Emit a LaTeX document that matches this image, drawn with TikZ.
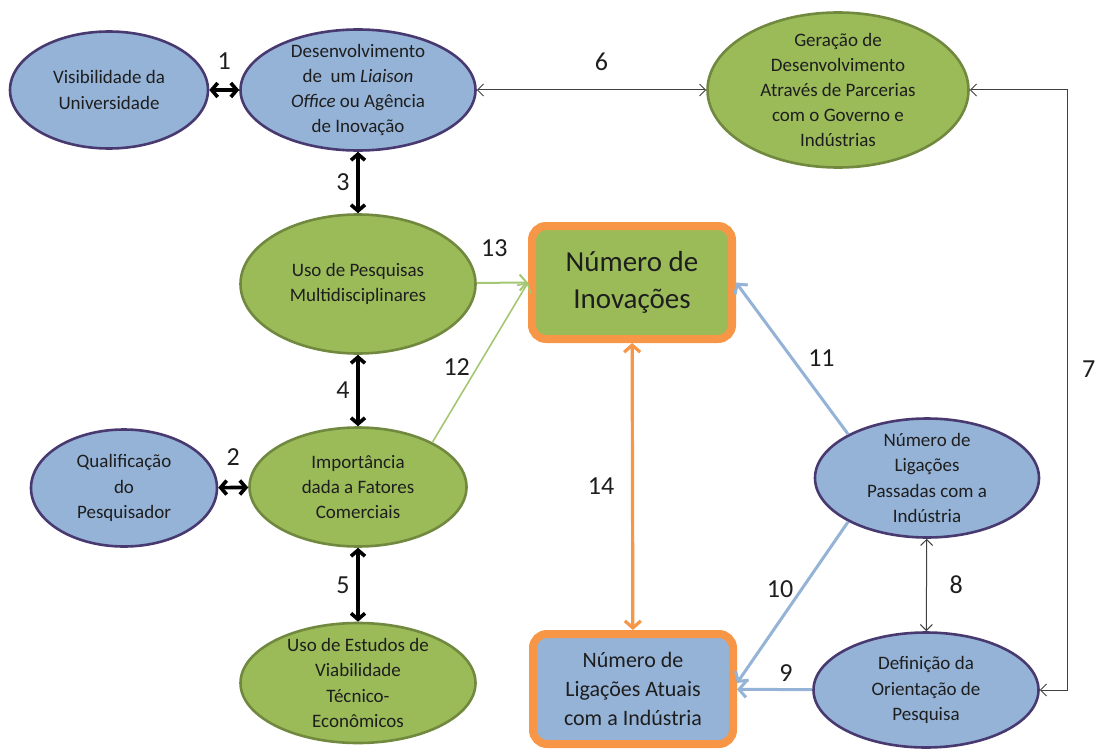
\documentclass[tikz,border=0pt]{standalone}
\usepackage{fontspec}
\setmainfont{Carlito}
\usetikzlibrary{shapes, arrows.meta, positioning}
\definecolor{bluefill}{RGB}{149,179,215}
\definecolor{blueline}{RGB}{72,58,112}
\definecolor{greenfill}{RGB}{155,187,89}
\definecolor{greenline}{RGB}{113,137,63}
\definecolor{orangeline}{RGB}{247,150,70}
\definecolor{bluearr}{RGB}{149,179,215}
\definecolor{greenarr}{RGB}{165,198,115}
\definecolor{darktext}{RGB}{30,30,30}
\newcommand{\ellfont}{\fontsize{9.5}{12.6}\selectfont}
\newcommand{\inovfont}{\fontsize{14.5}{18.5}\selectfont}
\newcommand{\ligfont}{\fontsize{11}{14.3}\selectfont}
\newcommand{\numfont}{\fontsize{13}{15}\selectfont}
\tikzstyle{blueell} = [draw=blueline, fill=bluefill, ellipse, line width=1.3pt,
    inner xsep=-6pt, inner ysep=-14pt, align=center, font=\ellfont, text=darktext]
\tikzstyle{greenell} = [blueell, draw=greenline, fill=greenfill]
\tikzstyle{orangebox} = [draw=orangeline, rectangle, rounded corners=7pt,
    line width=4pt, align=center, text=darktext, minimum width=100pt]
\tikzstyle{num} = [font=\numfont, text=darktext]
\tikzstyle{thickarr} = [line width=1.8pt,
    {Straight Barb[length=3pt,width=7pt]}-{Straight Barb[length=3pt,width=7pt]}]
\tikzstyle{thinarr} = [line width=0.5pt, draw=black!75,
    {Straight Barb[length=3pt,width=6pt]}-{Straight Barb[length=3pt,width=6pt]}]
\tikzstyle{bluearrow} = [line width=1.5pt, draw=bluearr, -{Straight Barb[length=3.5pt,width=8pt]}]
\tikzstyle{greenarrow} = [line width=1pt, draw=greenarr, -{Straight Barb[length=3.5pt,width=8pt]}]
\tikzstyle{orangearrow} = [line width=1.6pt, draw=orangeline,
    {Straight Barb[length=3.5pt,width=8pt]}-{Straight Barb[length=3.5pt,width=8pt]}]

\begin{document}
\begin{tikzpicture}[x=0.5pt, y=-0.5pt]
    \useasboundingbox (0,0) rectangle (1097,749);
    % left column
    \node [blueell, minimum width=99pt, minimum height=58.5pt] (visib) at (109,90) {Visibilidade da\\Universidade};
    \node [blueell, minimum width=117.5pt, minimum height=60.5pt] (desenv) at (358,90)
        {Desenvolvimento\\de\ \ um \textit{Liaison}\\\textit{Office} ou Agência\\de Inovação};
    \node [greenell, minimum width=130.5pt, minimum height=77.5pt] (geracao) at (838,90)
        {Geração de\\Desenvolvimento\\Através de Parcerias\\com o Governo e\\Indústrias};
    \node [greenell, minimum width=117.5pt, minimum height=69.5pt] (pesq) at (358,284) {Uso de Pesquisas\\Multidisciplinares};
    \node [blueell, minimum width=93pt, minimum height=58.5pt] (qualif) at (124,488) {Qualificação\\do\\Pesquisador};
    \node [greenell, minimum width=108.5pt, minimum height=59.5pt] (imp) at (358,487) {Importância\\dada a Fatores\\Comerciais};
    \node [greenell, minimum width=117.5pt, minimum height=60pt] (estudos) at (358,683)
        {Uso de Estudos de\\Viabilidade\\Técnico-\\Econômicos};
    % middle boxes
    \node [orangebox, fill=greenfill, minimum height=56.5pt, font=\inovfont] (inov) at (632,282.5) {Número de\\Inovações};
    \node [orangebox, fill=bluefill, minimum height=55pt, font=\ligfont] (atuais) at (633,689)
        {Número de\\Ligações Atuais\\com a Indústria};
    % right column
    \node [blueell, minimum width=112pt, minimum height=59.5pt] (pass) at (927,478)
        {Número de\\Ligações\\Passadas com a\\Indústria};
    \node [blueell, minimum width=112.5pt, minimum height=57.5pt] (def) at (926,690)
        {Definição da\\Orientação de\\Pesquisa};
    \coordinate (rt) at (1067,0);

    \draw [thickarr] (visib) -- node[num, above=6pt] {1} (desenv);
    \draw [thickarr] (qualif) -- node[num, above=7pt] {2} (imp);
    \draw [thickarr] (desenv) -- node[num, left] {3} (pesq);
    \draw [thickarr] (pesq) -- node[num, left] {4} (imp);
    \draw [thickarr] (imp) -- node[num, left] {5} (estudos);
    \draw [thinarr] (desenv) -- node[num, above=6pt, xshift=5pt] {6} (geracao);
    \draw [thinarr] (geracao.east) -- (geracao.east -| rt) -- node[num, right=4pt, pos=0.465] {7} (def.east -| rt) -- (def.east);
    \draw [thinarr] (pass) -- node[num, right=8pt] {8} (def);
    \draw [bluearrow] (def) -- node[num, above, pos=0.35] {9} (atuais);
    \draw [bluearrow] (pass.209) -- node[num, left, pos=0.42] {10} ([yshift=3pt]atuais.east);
    \draw [bluearrow] (pass.151) -- node[num, right=4pt] {11} (inov.east);
    \draw [greenarrow, line width=0.8pt] (imp.31) -- node[num, left, pos=0.47] {12} (inov.west);
    \draw [greenarrow] (pesq) -- node[num, above=9pt, xshift=-4pt] {13} (inov.west);
    \draw [orangearrow] (inov) -- node[num, left=5pt] {14} (atuais);
\end{tikzpicture}
\end{document}
